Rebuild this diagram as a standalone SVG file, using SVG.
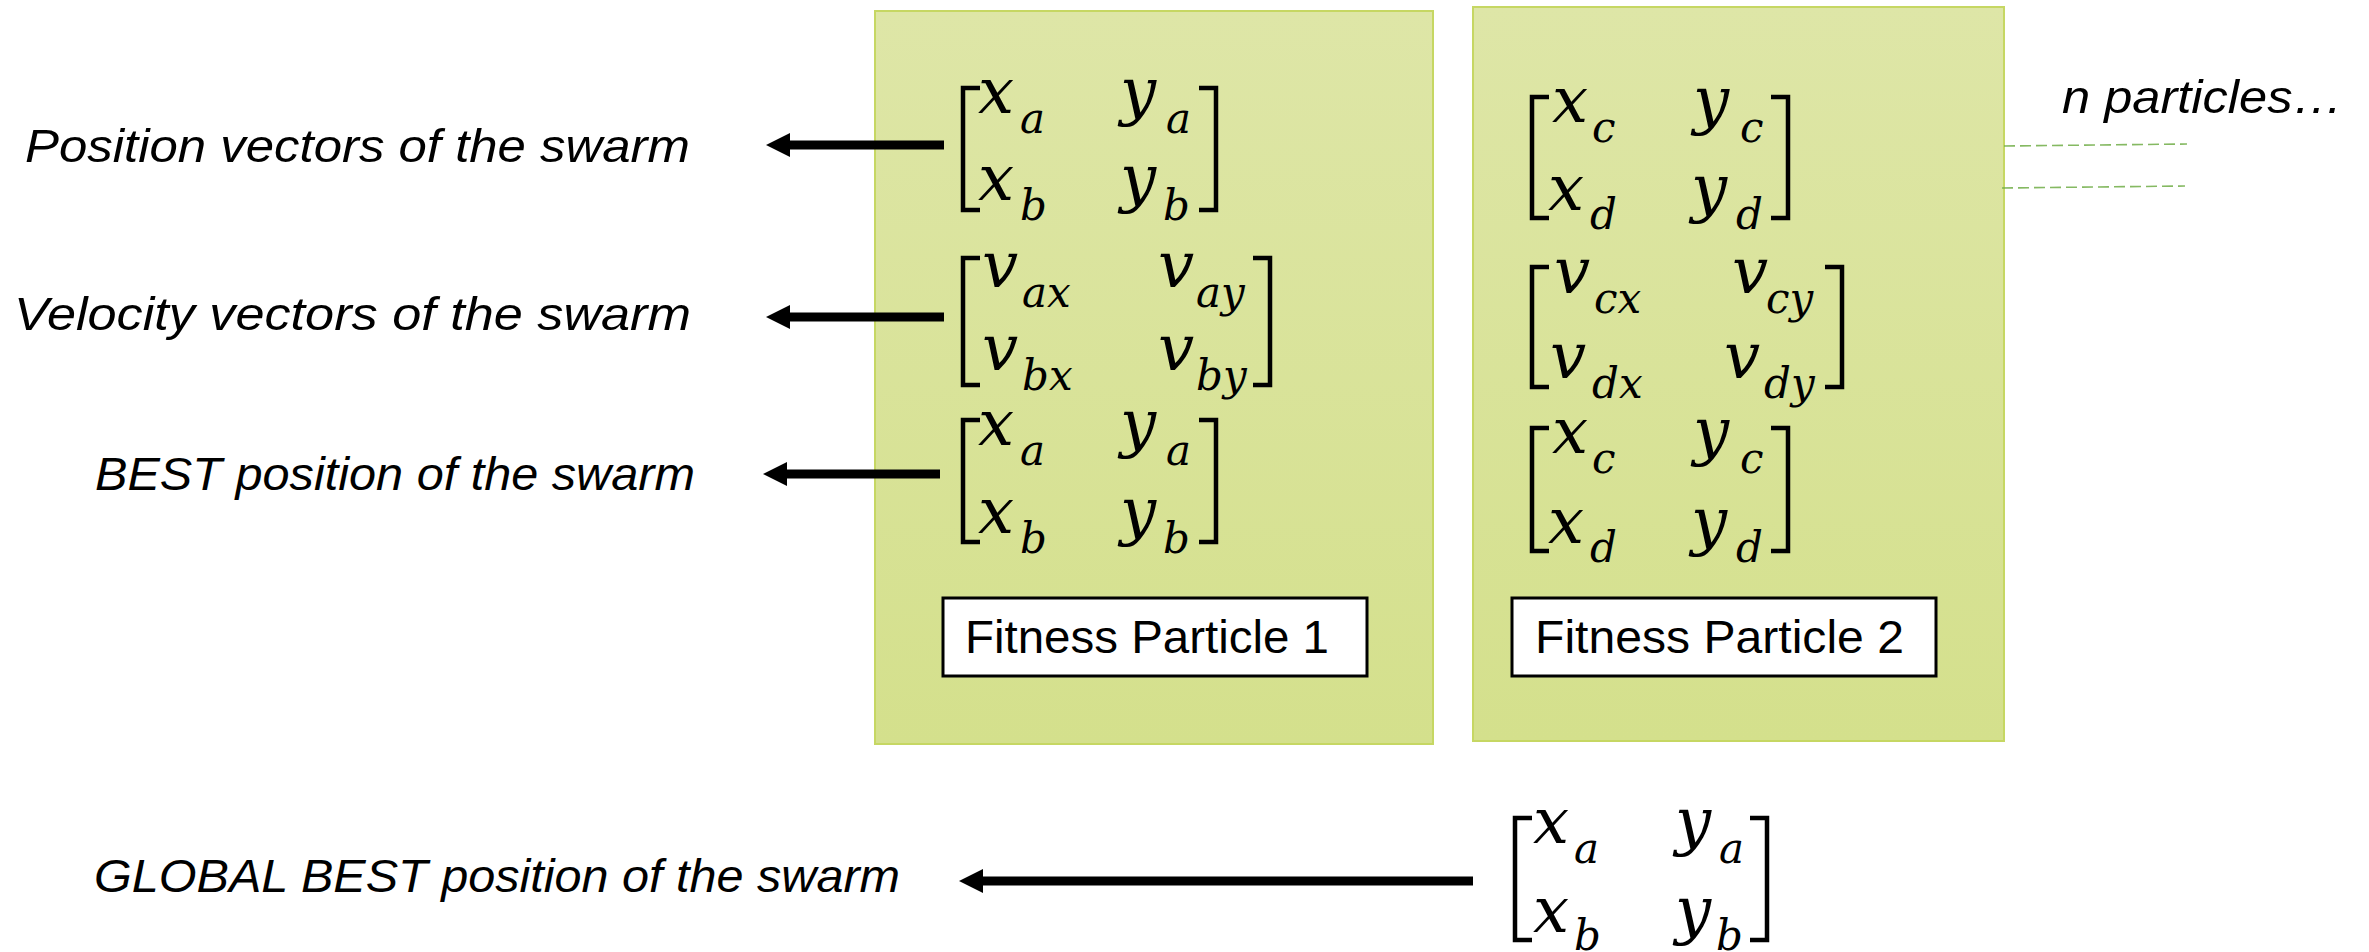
<svg xmlns="http://www.w3.org/2000/svg" width="2369" height="952" viewBox="0 0 2369 952">
<style>
.lbl{font-family:"Liberation Sans",Arial,sans-serif;font-style:italic;font-size:46px;fill:#000}
.fit{font-family:"Liberation Sans",Arial,sans-serif;font-size:46px;fill:#000}
.m{font-family:"DejaVu Serif","Liberation Serif",serif;font-style:italic;font-size:64px;fill:#000}
.s{font-family:"DejaVu Serif","Liberation Serif",serif;font-style:italic;font-size:42px;fill:#000}
.br{fill:none;stroke:#000;stroke-width:4.5;stroke-linejoin:miter}
.box{fill:url(#g);stroke:#c6d763;stroke-width:2}
.fbox{fill:#fff;stroke:#000;stroke-width:3}
.arr{stroke:#000;stroke-width:9;fill:none;marker-end:url(#ah)}
.dash{stroke:#70ad47;stroke-width:1.6;stroke-dasharray:11 5;fill:none;opacity:0.85}
</style>
<defs>
<linearGradient id="g" x1="0" y1="0" x2="0" y2="1">
<stop offset="0" stop-color="#dee6a7"/>
<stop offset="1" stop-color="#d4e08c"/>
</linearGradient>
<marker id="ah" markerUnits="userSpaceOnUse" markerWidth="26" markerHeight="26" viewBox="0 0 26 26" refX="3" refY="12" orient="auto">
<path d="M0,0 L24,12 L0,24 z" fill="#000"/>
</marker>
</defs>

<g id="particle-1">
<rect class="box" x="875" y="11" width="558" height="733"/>
<path class="br" d="M980,88 H963 V210 H980 M1199,88 H1216 V210 H1199"/>
<text class="m"><tspan x="978" y="113">x</tspan><tspan x="1120" y="113">y</tspan><tspan x="978" y="200">x</tspan><tspan x="1120" y="200">y</tspan></text>
<text class="s"><tspan x="1020" y="133">a</tspan><tspan x="1166" y="133">a</tspan><tspan x="1020" y="220">b</tspan><tspan x="1163" y="220">b</tspan></text>
<path class="br" d="M980,258 H963 V385 H980 M1253,258 H1270 V385 H1253"/>
<text class="m"><tspan x="982" y="287">v</tspan><tspan x="1158" y="287">v</tspan><tspan x="982" y="370">v</tspan><tspan x="1158" y="370">v</tspan></text>
<text class="s"><tspan x="1022" y="307">ax</tspan><tspan x="1196" y="307">ay</tspan><tspan x="1022" y="390">bx</tspan><tspan x="1196" y="390">by</tspan></text>
<path class="br" d="M980,420 H963 V542 H980 M1199,420 H1216 V542 H1199"/>
<text class="m"><tspan x="978" y="445">x</tspan><tspan x="1120" y="445">y</tspan><tspan x="978" y="533">x</tspan><tspan x="1120" y="533">y</tspan></text>
<text class="s"><tspan x="1020" y="465">a</tspan><tspan x="1166" y="465">a</tspan><tspan x="1020" y="553">b</tspan><tspan x="1163" y="553">b</tspan></text>
<rect class="fbox" x="943" y="598" width="424" height="78"/>
<text class="fit" x="965" y="653" textLength="364" lengthAdjust="spacingAndGlyphs">Fitness Particle 1</text>
</g>

<g id="particle-2">
<rect class="box" x="1473" y="7" width="531" height="734"/>
<path class="br" d="M1549,97 H1532 V218 H1549 M1771,97 H1788 V218 H1771"/>
<text class="m"><tspan x="1552" y="122">x</tspan><tspan x="1693" y="122">y</tspan><tspan x="1548" y="210">x</tspan><tspan x="1691" y="210">y</tspan></text>
<text class="s"><tspan x="1592" y="142">c</tspan><tspan x="1740" y="142">c</tspan><tspan x="1590" y="229">d</tspan><tspan x="1736" y="229">d</tspan></text>
<path class="br" d="M1549,267 H1532 V387 H1549 M1825,267 H1842 V387 H1825"/>
<text class="m"><tspan x="1554" y="293">v</tspan><tspan x="1732" y="293">v</tspan><tspan x="1550" y="378">v</tspan><tspan x="1724" y="378">v</tspan></text>
<text class="s"><tspan x="1594" y="313">cx</tspan><tspan x="1766" y="313">cy</tspan><tspan x="1592" y="398">dx</tspan><tspan x="1764" y="398">dy</tspan></text>
<path class="br" d="M1549,428 H1532 V551 H1549 M1771,428 H1788 V551 H1771"/>
<text class="m"><tspan x="1552" y="453">x</tspan><tspan x="1693" y="453">y</tspan><tspan x="1548" y="543">x</tspan><tspan x="1691" y="543">y</tspan></text>
<text class="s"><tspan x="1592" y="473">c</tspan><tspan x="1740" y="473">c</tspan><tspan x="1590" y="562">d</tspan><tspan x="1736" y="562">d</tspan></text>
<rect class="fbox" x="1512" y="598" width="424" height="78"/>
<text class="fit" x="1535" y="653" textLength="369" lengthAdjust="spacingAndGlyphs">Fitness Particle 2</text>
</g>

<g id="global-best">
<path class="br" d="M1532,818 H1515 V940 H1532 M1750,818 H1767 V940 H1750"/>
<text class="m"><tspan x="1533" y="843">x</tspan><tspan x="1675" y="843">y</tspan><tspan x="1533" y="932">x</tspan><tspan x="1675" y="932">y</tspan></text>
<text class="s"><tspan x="1574" y="863">a</tspan><tspan x="1719" y="863">a</tspan><tspan x="1574" y="950">b</tspan><tspan x="1716" y="950">b</tspan></text>
</g>

<g id="label-position"><text class="lbl" x="25" y="162" textLength="665" lengthAdjust="spacingAndGlyphs">Position vectors of the swarm</text></g>
<g id="label-velocity"><text class="lbl" x="14" y="330" textLength="677" lengthAdjust="spacingAndGlyphs">Velocity vectors of the swarm</text></g>
<g id="label-best"><text class="lbl" x="95" y="490" textLength="600" lengthAdjust="spacingAndGlyphs">BEST position of the swarm</text></g>
<g id="label-global"><text class="lbl" x="94" y="892" textLength="806" lengthAdjust="spacingAndGlyphs">GLOBAL BEST position of the swarm</text></g>
<g id="label-n-particles"><text class="lbl" x="2062" y="113" textLength="281" lengthAdjust="spacingAndGlyphs">n particles…</text></g>

<g id="connectors">
<line class="arr" x1="944" y1="145" x2="787" y2="145"/>
<line class="arr" x1="944" y1="317" x2="787" y2="317"/>
<line class="arr" x1="940" y1="474" x2="784" y2="474"/>
<line class="arr" x1="1473" y1="881" x2="980" y2="881"/>
<line class="dash" x1="2004" y1="146" x2="2187" y2="144"/>
<line class="dash" x1="2002" y1="188" x2="2185" y2="186"/>
</g>
</svg>
